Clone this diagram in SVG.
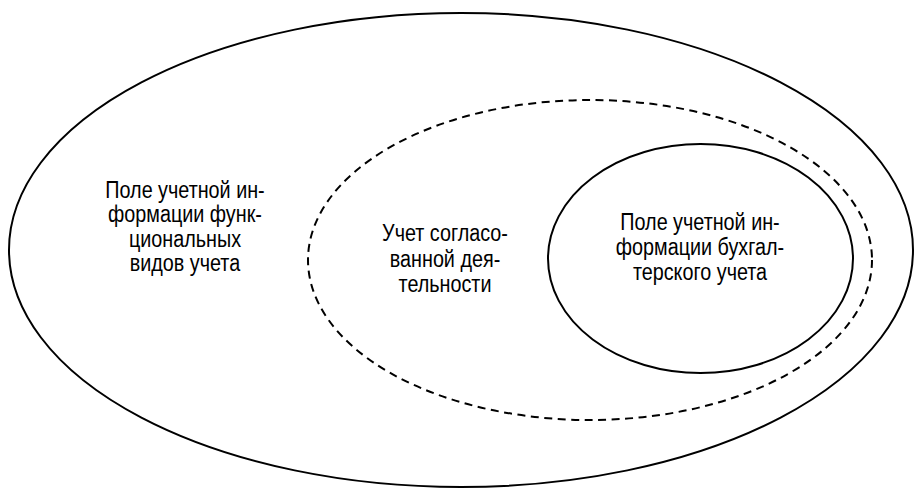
<svg xmlns="http://www.w3.org/2000/svg" width="915" height="488" viewBox="0 0 915 488">
<style>
.sh{fill:none;stroke:#000;stroke-width:2}
.dash{stroke-dasharray:8 5.5}
.t{font-family:"Liberation Sans",Arial,sans-serif;font-size:23px;fill:#000;text-anchor:middle}
</style>
<rect width="915" height="488" fill="#fff"/>
<g id="outer">
<ellipse class="sh" cx="461" cy="250" rx="452" ry="237"/>
<g transform="translate(185,0) scale(0.86,1)">
<text class="t" x="0" y="198">Поле учетной ин-</text>
<text class="t" x="0" y="222.5">формации функ-</text>
<text class="t" x="0" y="247">циональных</text>
<text class="t" x="0" y="271.5">видов учета</text>
</g>
</g>
<g id="middle">
<ellipse class="sh dash" cx="590" cy="260" rx="282" ry="160"/>
<g transform="translate(445,0) scale(0.86,1)">
<text class="t" x="0" y="241.5">Учет согласо-</text>
<text class="t" x="0" y="267">ванной дея-</text>
<text class="t" x="0" y="292.5">тельности</text>
</g>
</g>
<g id="inner">
<ellipse class="sh" cx="700.5" cy="258.5" rx="152.5" ry="114.5"/>
<g transform="translate(700,0) scale(0.86,1)">
<text class="t" x="0" y="230">Поле учетной ин-</text>
<text class="t" x="0" y="255">формации бухгал-</text>
<text class="t" x="0" y="280">терского учета</text>
</g>
</g>
<g id="connectors"></g>
</svg>
